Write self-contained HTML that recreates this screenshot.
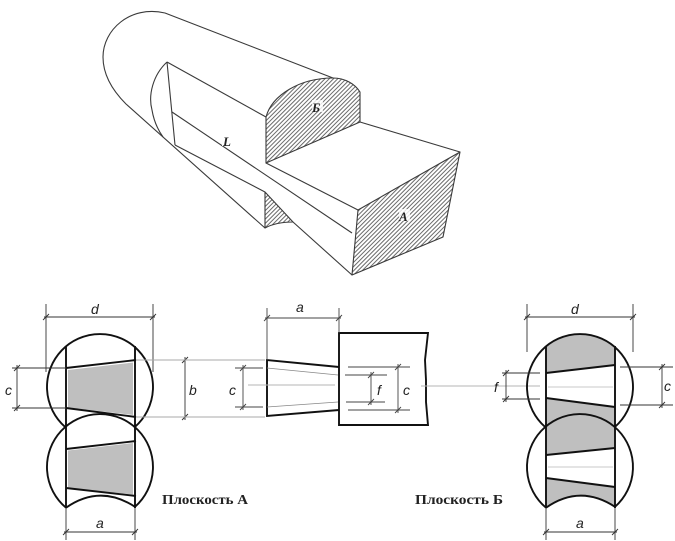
<!DOCTYPE html>
<html><head><meta charset="utf-8"><style>
html,body{margin:0;padding:0;background:#fff;}
svg{display:block;}
.lab{font-family:"Liberation Sans",sans-serif;font-style:italic;font-size:14px;fill:#222;}
.cap{font-family:"Liberation Serif",serif;font-weight:bold;font-size:14px;fill:#222;}
.iso{font-family:"Liberation Serif",serif;font-weight:bold;font-style:italic;font-size:13px;fill:#222;}
</style></head><body>
<svg width="675" height="541" viewBox="0 0 675 541" xmlns="http://www.w3.org/2000/svg">
<defs>
<pattern id="h" width="3" height="3" patternUnits="userSpaceOnUse" patternTransform="rotate(45)">
<line x1="0.5" y1="0" x2="0.5" y2="3" stroke="#6a6a6a" stroke-width="1"/>
</pattern>
</defs>
<rect width="675" height="541" fill="#fff"/>

<!-- ===== 3D figure ===== -->
<g fill="none" stroke="#3a3a3a" stroke-width="1.1" stroke-linejoin="round">
<path d="M333,78 L165,13 C130,5 103,30 103,57 C103,75 112,90 126,104 L265,228"/>
<path d="M167,62 C153,75 148,95 152,110 C154,122 158,130 163,137"/>
<line x1="167" y1="62" x2="175" y2="145"/>
<line x1="167" y1="62" x2="266" y2="117"/>
<line x1="172" y1="112" x2="352" y2="233"/>
<line x1="175" y1="145" x2="265" y2="192"/>
<path d="M265,192 L293,222 Q276,222 265,228 Z" fill="url(#h)"/>
<line x1="293" y1="222" x2="352" y2="275"/>
<path d="M266,117 C272,95 300,78 333,78 C345,78 355,84 360,92 L360,122 L266,163 Z" fill="url(#h)"/>
<line x1="360" y1="122" x2="460" y2="152"/>
<line x1="266" y1="163" x2="358" y2="210"/>
<path d="M358,210 L460,152 L443,237 L352,275 Z" fill="url(#h)"/>
</g>
<rect x="222" y="133" width="12" height="13" fill="#fff"/>
<text class="iso" x="223" y="146">L</text>
<rect x="312" y="100" width="11" height="12" fill="#fff" opacity="0.8"/>
<text class="iso" x="312" y="112">Б</text>
<rect x="399" y="209" width="11" height="12" fill="#fff" opacity="0.8"/>
<text class="iso" x="399" y="221">A</text>

<!-- ===== Left panel ===== -->
<!-- gray fills -->
<polygon points="68,370 133,362.5 133,415 68,407.5" fill="#bfbfbf"/>
<polygon points="68,450.5 133,443 133,494.5 68,488" fill="#bfbfbf"/>
<g fill="none" stroke="#111" stroke-width="1.9">
<path d="M65.2,427 A53,53 0 1,1 134.8,427"/>
<path d="M66,507.7 A53,53 0 1,1 135,506.8"/>
<path d="M66,507.7 Q100,484 135,506.8"/>
<line x1="66" y1="346" x2="66" y2="508"/>
<line x1="135" y1="346" x2="135" y2="508"/>
<line x1="66" y1="368" x2="136" y2="360"/>
<line x1="66" y1="408" x2="136" y2="417"/>
<line x1="66" y1="449" x2="136" y2="441"/>
<line x1="66" y1="488" x2="136" y2="496"/>
</g>
<g fill="none" stroke="#333" stroke-width="0.9">
<!-- d -->
<line x1="46" y1="304" x2="46" y2="372"/>
<line x1="153" y1="304" x2="153" y2="372"/>
<line x1="44" y1="317" x2="155" y2="317"/>
<line x1="43" y1="320" x2="49" y2="314"/>
<line x1="150" y1="320" x2="156" y2="314"/>
<!-- c ext -->
<line x1="12" y1="368" x2="66" y2="368"/>
<line x1="12" y1="408" x2="66" y2="408"/>
<line x1="17" y1="365" x2="17" y2="411"/>
<line x1="14" y1="371" x2="20" y2="365"/>
<line x1="14" y1="411" x2="20" y2="405"/>
<!-- b -->
<line x1="185" y1="357" x2="185" y2="420"/>
<line x1="182" y1="363" x2="188" y2="357"/>
<line x1="182" y1="420" x2="188" y2="414"/>
<!-- a -->
<line x1="66" y1="508" x2="66" y2="540"/>
<line x1="135" y1="508" x2="135" y2="540"/>
<line x1="64" y1="532" x2="137" y2="532"/>
<line x1="63" y1="535" x2="69" y2="529"/>
<line x1="132" y1="535" x2="138" y2="529"/>
</g>
<g stroke="#aaa" stroke-width="0.9">
<line x1="136" y1="360" x2="265" y2="360"/>
<line x1="136" y1="417" x2="265" y2="417"/>
</g>
<text class="lab" x="91" y="314">d</text>
<text class="lab" x="5" y="395">c</text>
<text class="lab" x="189" y="395">b</text>
<text class="lab" x="96" y="528">a</text>
<text class="cap" x="162" y="504" textLength="86" lengthAdjust="spacingAndGlyphs">Плоскость А</text>

<!-- ===== Middle panel ===== -->
<g fill="none" stroke="#111" stroke-width="1.9" stroke-linejoin="miter">
<polyline points="339,367 267,360 267,416 339,410"/>
<path d="M339,333 L428,333 L425,360 L426,380 L426,402 L428,425 L339,425 Z"/>
</g>
<g fill="none" stroke="#444" stroke-width="0.9">
<line x1="267" y1="308" x2="267" y2="360"/>
<line x1="339" y1="308" x2="339" y2="333"/>
<line x1="265" y1="318" x2="341" y2="318"/>
<line x1="264" y1="321" x2="270" y2="315"/>
<line x1="336" y1="321" x2="342" y2="315"/>
<line x1="235" y1="368" x2="263" y2="368"/>
<line x1="235" y1="407" x2="263" y2="407"/>
<line x1="243" y1="365" x2="243" y2="410"/>
<line x1="240" y1="371" x2="246" y2="365"/>
<line x1="240" y1="410" x2="246" y2="404"/>
<line x1="348" y1="367" x2="410" y2="367"/>
<line x1="345" y1="375" x2="387" y2="375"/>
<line x1="346" y1="402" x2="385" y2="402"/>
<line x1="348" y1="410" x2="410" y2="410"/>
<line x1="371" y1="372" x2="371" y2="405"/>
<line x1="368" y1="378" x2="374" y2="372"/>
<line x1="368" y1="405" x2="374" y2="399"/>
<line x1="398" y1="364" x2="398" y2="413"/>
<line x1="395" y1="370" x2="401" y2="364"/>
<line x1="395" y1="413" x2="401" y2="407"/>
</g>
<g fill="none" stroke="#888" stroke-width="0.8">
<line x1="267" y1="368" x2="338" y2="375"/>
<line x1="267" y1="407" x2="338" y2="402"/>
</g>
<g stroke="#b5b5b5" stroke-width="0.9">
<line x1="248" y1="385" x2="335" y2="385"/>
<line x1="421" y1="386" x2="540" y2="386"/>
</g>
<text class="lab" x="296" y="312">a</text>
<text class="lab" x="229" y="395">c</text>
<text class="lab" x="377" y="395">f</text>
<text class="lab" x="403" y="395">c</text>

<!-- ===== Right panel ===== -->
<path d="M546,346.3 A53,53 0 0,1 615,347.2 L615,365 L546,373 Z" fill="#bfbfbf"/>
<path d="M546,398 L615,407 L615,426.6 A53,53 0 0,0 546,426.6 Z" fill="#bfbfbf"/>
<path d="M546,426.6 A53,53 0 0,1 615,426.6 L615,448 L546,455 Z" fill="#bfbfbf"/>
<path d="M546,478 L615,487 L615,506.8 Q580,484 546,507.7 Z" fill="#bfbfbf"/>
<g stroke="#c8c8c8" stroke-width="0.9">
<line x1="548" y1="387" x2="613" y2="387"/>
<line x1="548" y1="467" x2="613" y2="467"/>
</g>
<g fill="none" stroke="#111" stroke-width="1.9">
<path d="M545.2,427 A53,53 0 1,1 614.8,427"/>
<path d="M546,507.7 A53,53 0 1,1 615,506.8"/>
<path d="M546,507.7 Q580,484 615,506.8"/>
<line x1="546" y1="346" x2="546" y2="508"/>
<line x1="615" y1="346" x2="615" y2="508"/>
<line x1="546" y1="373" x2="615" y2="365"/>
<line x1="546" y1="398" x2="615" y2="407"/>
<line x1="546" y1="455" x2="615" y2="448"/>
<line x1="546" y1="478" x2="615" y2="487"/>
</g>
<g fill="none" stroke="#333" stroke-width="0.9">
<line x1="527" y1="304" x2="527" y2="352"/>
<line x1="633" y1="304" x2="633" y2="352"/>
<line x1="525" y1="317" x2="635" y2="317"/>
<line x1="524" y1="320" x2="530" y2="314"/>
<line x1="630" y1="320" x2="636" y2="314"/>
<line x1="502" y1="373" x2="540" y2="373"/>
<line x1="502" y1="399" x2="540" y2="399"/>
<line x1="506" y1="370" x2="506" y2="402"/>
<line x1="503" y1="376" x2="509" y2="370"/>
<line x1="503" y1="402" x2="509" y2="396"/>
<line x1="620" y1="367" x2="673" y2="367"/>
<line x1="620" y1="405" x2="673" y2="405"/>
<line x1="662" y1="364" x2="662" y2="408"/>
<line x1="659" y1="370" x2="665" y2="364"/>
<line x1="659" y1="408" x2="665" y2="402"/>
<line x1="546" y1="508" x2="546" y2="540"/>
<line x1="615" y1="508" x2="615" y2="540"/>
<line x1="544" y1="532" x2="617" y2="532"/>
<line x1="543" y1="535" x2="549" y2="529"/>
<line x1="612" y1="535" x2="618" y2="529"/>
</g>
<text class="lab" x="571" y="314">d</text>
<text class="lab" x="494" y="392">f</text>
<text class="lab" x="664" y="391">c</text>
<text class="lab" x="576" y="528">a</text>
<text class="cap" x="415" y="504" textLength="88" lengthAdjust="spacingAndGlyphs">Плоскость Б</text>
</svg>
</body></html>
